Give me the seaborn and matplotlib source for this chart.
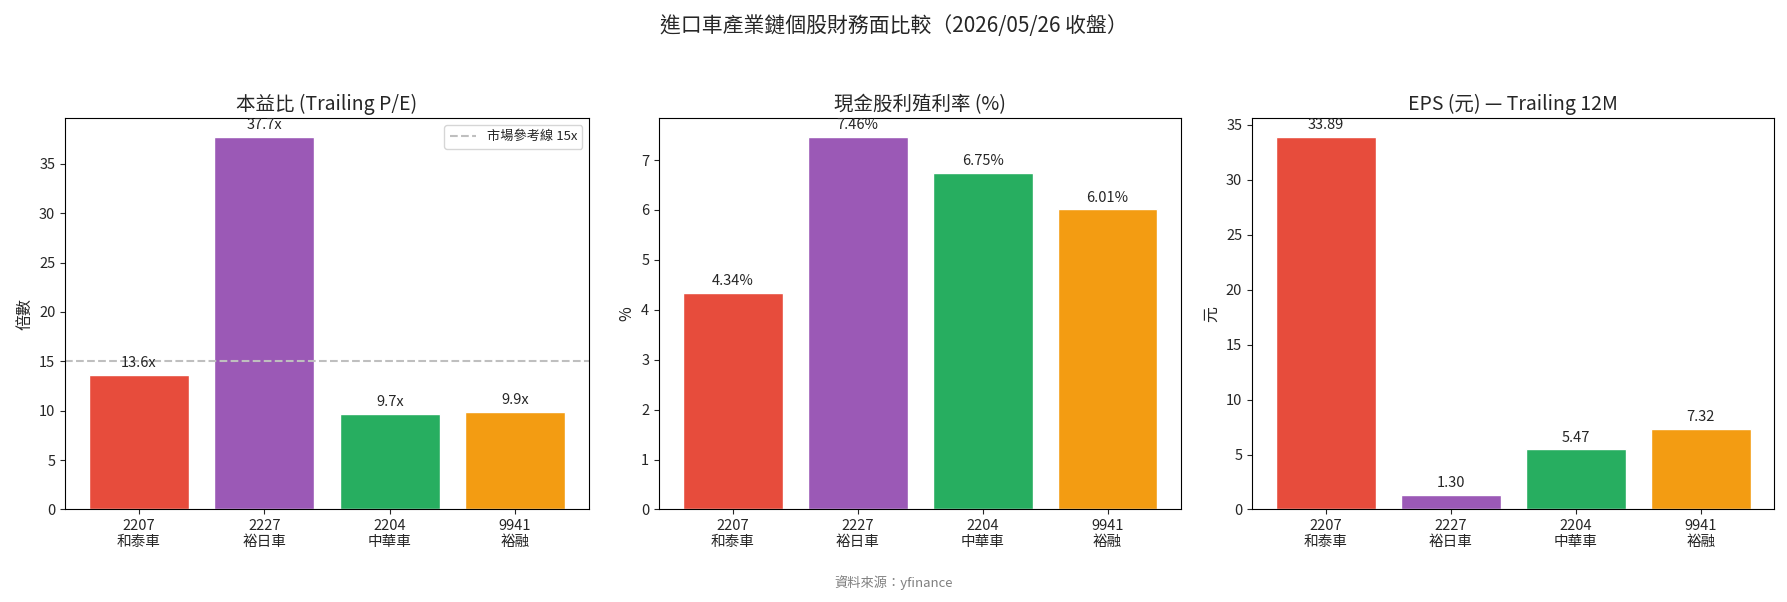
import numpy as np
import matplotlib.pyplot as plt
import pandas as pd
import seaborn as sns

sns.set_style("white")
plt.rcParams['font.family'] = ['Noto Sans CJK TC', 'DejaVu Sans']
plt.rcParams['axes.unicode_minus'] = False

# Data
stocks = ["2207\n和泰車", "2227\n裕日車", "2204\n中華車", "9941\n裕融"]
pe_ratio = [13.6, 37.7, 9.7, 9.9]
dividend_yield = [4.34, 7.46, 6.75, 6.01]
eps = [33.89, 1.30, 5.47, 7.32]
colors = ["#e74c3c", "#9b59b6", "#27ae60", "#f39c12"]
market_pe = 15

df = pd.DataFrame({"stock": stocks, "pe": pe_ratio, "dy": dividend_yield, "eps": eps})
palette = dict(zip(stocks, colors))

fig = plt.figure(figsize=(17.87, 6.02), dpi=100)
ax1 = fig.add_axes([0.0364, 0.1537, 0.2932, 0.6495])
ax2 = fig.add_axes([0.3688, 0.1537, 0.2922, 0.6495])
ax3 = fig.add_axes([0.7006, 0.1537, 0.2924, 0.6495])

panels = [
    (ax1, "pe", "本益比 (Trailing P/E)", "倍數", "{:.1f}x"),
    (ax2, "dy", "現金股利殖利率 (%)", "%", "{:.2f}%"),
    (ax3, "eps", "EPS (元) — Trailing 12M", "元", "{:.2f}"),
]

for ax, col, title, ylabel, fmt in panels:
    sns.barplot(data=df, x="stock", y=col, hue="stock", palette=palette,
                order=stocks, hue_order=stocks, legend=False, saturation=1,
                width=0.8, ax=ax)
    for cont in ax.containers:
        ax.bar_label(cont, labels=[fmt.format(b.get_height()) for b in cont],
                     padding=3.5, fontsize=10.5)
    ax.set_title(title, fontsize=14)
    ax.set_ylabel(ylabel, fontsize=11.5)
    ax.set_xlabel("")
    ax.set_xlim(-0.59, len(stocks) - 1 + 0.59)
    ax.tick_params(axis="both", labelsize=10.5, length=3.5, width=0.8, bottom=True, left=True)
    for s in ax.spines.values():
        s.set_color("black")
        s.set_linewidth(0.8)

ax1.set_ylim(0, max(pe_ratio) * 1.05)
ax2.set_ylim(0, max(dividend_yield) * 1.05)
ax3.set_ylim(0, max(eps) * 1.05)
ax1.set_yticks(np.arange(0, 36, 5))

ax1.axhline(market_pe, color="#bfbfbf", linestyle="--", linewidth=1.5,
            label=f"市場參考線 {market_pe}x")
ax1.legend(loc="upper right", fontsize=9.5)

fig.suptitle("進口車產業鏈個股財務面比較（2026/05/26 收盤）", fontsize=15, y=0.975)
fig.text(0.5, 0.025, "資料來源：yfinance", ha="center", fontsize=9.5, color="gray")

plt.savefig("out.png", dpi=100)
